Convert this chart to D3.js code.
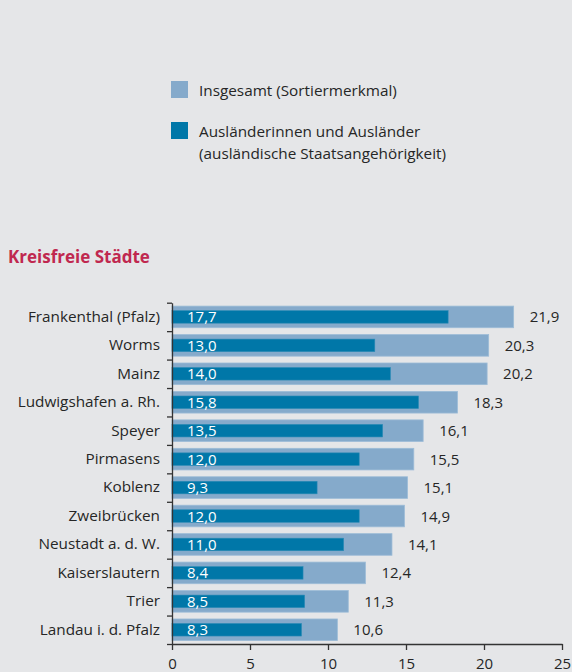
<!DOCTYPE html>
<html>
<head>
<meta charset="utf-8">
<script src="https://cdn.jsdelivr.net/npm/d3@7/dist/d3.min.js"></script>
<style>
  html, body { margin: 0; padding: 0; background: #e5e6e8; }
  svg { display: block; font-family: "Open Sans", "Noto Sans", sans-serif; }
</style>
</head>
<body>
<svg id="chart" width="572" height="672"></svg>
<script>
// Kreisfreie Städte, sorted by the total value
const cities = [
  "Frankenthal (Pfalz)", "Worms", "Mainz", "Ludwigshafen a. Rh.", "Speyer",
  "Pirmasens", "Koblenz", "Zweibrücken", "Neustadt a. d. W.",
  "Kaiserslautern", "Trier", "Landau i. d. Pfalz"
];
const totalValues = [21.9, 20.3, 20.2, 18.3, 16.1, 15.5, 15.1, 14.9, 14.1, 12.4, 11.3, 10.6];
const foreignValues = [17.7, 13.0, 14.0, 15.8, 13.5, 12.0, 9.3, 12.0, 11.0, 8.4, 8.5, 8.3];
const xTicks = [0, 5, 10, 15, 20, 25];
const legendLabels = [
  ["Insgesamt (Sortiermerkmal)"],
  ["Ausländerinnen und Ausländer", "(ausländische Staatsangehörigkeit)"]
];
const sectionTitle = "Kreisfreie Städte";

const colTotal = "#85aacb";
const colForeign = "#0077a8";
const textCol = "#262626";
const axisCol = "#333";

const svg = d3.select("#chart");
const fmt = v => d3.format(".1f")(v).replace(".", ",");

// Legend
const legend = svg.append("g");
legendLabels.forEach((lines, i) => {
  const y0 = 81 + i * 41;
  legend.append("rect")
    .attr("x", 171).attr("y", y0).attr("width", 17).attr("height", 17)
    .attr("fill", i === 0 ? colTotal : colForeign);
  lines.forEach((t, j) => {
    legend.append("text")
      .attr("x", 199).attr("y", y0 + 14.5 + j * 22)
      .attr("fill", textCol).attr("font-size", 15.3)
      .text(t);
  });
});

// Section heading
svg.append("text")
  .attr("x", 8).attr("y", 263)
  .attr("fill", "#c0284f").attr("font-size", 17).attr("font-weight", "bold")
  .text(sectionTitle);

// Scales
const x = d3.scaleLinear().domain([0, 25]).range([172, 562]);
const y = d3.scaleBand().domain(cities).range([302.7, 644]).padding(0);
const rowIdx = d3.scaleLinear().domain([0, cities.length]).range([302.7, 644]);

const bw = y.bandwidth();
const hTotal = bw * 0.76;
const hForeign = bw * 0.44;

// Bars
const rows = svg.append("g").selectAll("g")
  .data(cities.map((c, i) => ({ c, total: totalValues[i], foreign: foreignValues[i] })))
  .join("g")
  .attr("transform", d => `translate(0,${y(d.c) + bw / 2})`);

rows.append("rect")
  .attr("x", x(0)).attr("y", -hTotal / 2)
  .attr("width", d => x(d.total) - x(0)).attr("height", hTotal)
  .attr("fill", colTotal).attr("stroke", "#9dbcd7").attr("stroke-width", 0.8);

rows.append("rect")
  .attr("x", x(0)).attr("y", -hForeign / 2)
  .attr("width", d => x(d.foreign) - x(0)).attr("height", hForeign)
  .attr("fill", colForeign).attr("stroke", "#2a8ab5").attr("stroke-width", 0.6);

rows.append("text")
  .attr("x", x(0) + 15).attr("y", 5.5)
  .attr("fill", "#ffffff").attr("font-size", 15)
  .text(d => fmt(d.foreign));

rows.append("text")
  .attr("x", d => x(d.total) + 16).attr("y", 5.5)
  .attr("fill", textCol).attr("font-size", 15)
  .text(d => fmt(d.total));

// Category axis: labels
const yLabels = svg.append("g")
  .attr("transform", `translate(${x(0)},0)`)
  .call(d3.axisLeft(y).tickSize(0).tickPadding(12));
yLabels.select(".domain").remove();
yLabels.selectAll("text")
  .attr("fill", textCol).attr("font-size", 15.3)
  .attr("font-family", "Open Sans, Noto Sans, sans-serif");

// Category axis: line with ticks at row boundaries
const yLine = svg.append("g")
  .attr("transform", `translate(${x(0)},0)`)
  .call(d3.axisLeft(rowIdx).tickValues(d3.range(cities.length + 1)).tickFormat("").tickSize(5).tickSizeOuter(0));
yLine.select(".domain").attr("stroke", axisCol).attr("stroke-width", 1.3);
yLine.selectAll(".tick line").attr("stroke", axisCol).attr("stroke-width", 1.3);

// Value axis
const xAxis = svg.append("g")
  .attr("transform", `translate(0,644)`)
  .call(d3.axisBottom(x).tickValues(xTicks).tickSize(6).tickSizeOuter(0).tickPadding(8));
xAxis.select(".domain").attr("stroke", axisCol).attr("stroke-width", 1.3);
xAxis.selectAll(".tick line").attr("stroke", axisCol).attr("stroke-width", 1.3);
xAxis.selectAll("text")
  .attr("fill", textCol).attr("font-size", 15)
  .attr("font-family", "Open Sans, Noto Sans, sans-serif");
</script>
</body>
</html>
